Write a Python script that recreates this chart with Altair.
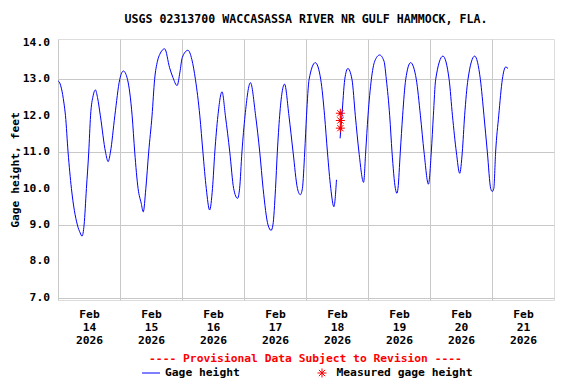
import altair as alt
import pandas as pd

# ---- data (hours after 2026-02-14 00:00, feet) ----
seg1_hours = [0.0, 0.7, 1.3, 2.3, 2.9, 3.9, 5.2, 7.5, 8.6, 9.3,
              10.1, 11.0, 11.9, 12.6, 13.6, 14.5,
              15.3, 16.4, 18.4, 19.4,
              20.3, 22.0, 23.9, 25.3,
              26.9, 28.7, 29.7, 31.0, 32.2, 33.0,
              34.0, 35.1, 36.4, 37.4, 38.5, 39.4, 41.3,
              43.2, 44.5, 46.1,
              47.2, 48.1, 50.3,
              51.8, 53.2, 54.9, 56.1, 57.4, 58.7,
              59.8, 60.7, 61.9, 63.5,
              64.8, 66.5, 68.0, 69.5,
              70.3, 71.2, 72.4, 74.5,
              76.5, 78.1, 79.4, 81.3, 82.5,
              83.2, 84.2, 84.9, 85.8, 87.7,
              89.4, 91.0, 92.7, 93.8,
              94.6, 95.5, 96.2, 97.2, 99.6,
              101.7, 103.2, 104.3, 105.6, 106.8, 107.8]
seg1_values = [12.96, 12.90, 12.76, 12.35, 12.0, 11.0, 10.0, 9.0, 8.78, 8.69,
               9.0, 10.0, 11.0, 12.0, 12.55, 12.71,
               12.5, 12.0, 11.0, 10.74,
               11.0, 12.0, 13.0, 13.23,
               13.0, 12.0, 11.0, 10.0, 9.6, 9.36,
               10.0, 11.0, 12.0, 13.0, 13.5, 13.69, 13.84,
               13.32, 13.05, 12.83,
               13.2, 13.6, 13.80,
               13.55, 13.0, 12.0, 11.0, 10.0, 9.41,
               10.0, 11.0, 12.0, 12.66,
               12.0, 11.0, 10.0, 9.73,
               10.0, 11.0, 12.0, 12.91,
               12.0, 11.0, 10.0, 9.0, 8.85,
               9.0, 10.0, 11.0, 12.0, 12.87,
               12.0, 11.0, 10.0, 9.83,
               10.0, 11.0, 12.0, 13.0, 13.46,
               13.0, 12.0, 11.0, 10.0, 9.50, 10.24]

seg2_hours = [109.2, 109.9, 111.0, 112.2,
              113.8, 115.1, 116.5, 118.3,
              119.1, 120.0, 121.3, 122.6, 124.5,
              126.2, 127.1, 128.4, 129.3, 130.6, 131.2,
              131.6, 132.5, 133.4, 134.6, 136.5,
              138.7, 140.3, 141.7, 143.4,
              144.5, 145.3, 146.2, 149.0,
              151.4, 152.7, 154.2, 155.5,
              156.5, 157.4, 158.7, 161.3,
              163.5, 164.9, 166.2, 167.5, 168.1,
              168.7, 169.4, 170.6, 172.0, 173.3, 174.2]
seg2_values = [11.38, 12.0, 13.0, 13.30,
               13.0, 12.0, 11.0, 10.17,
               11.0, 12.0, 13.0, 13.5, 13.67,
               13.5, 13.0, 12.0, 11.0, 10.0, 9.87,
               10.0, 11.0, 12.0, 13.0, 13.46,
               13.0, 12.0, 11.0, 10.12,
               11.0, 12.0, 13.0, 13.64,
               13.0, 12.0, 11.0, 10.42,
               11.0, 12.0, 13.0, 13.64,
               13.0, 12.0, 11.0, 10.0, 9.92,
               10.0, 11.0, 12.0, 13.0, 13.34, 13.30]

meas_hours = [109.3, 109.3, 109.3]
meas_values = [12.07, 11.87, 11.66]

y_ticks = [7, 8, 9, 10, 11, 12, 13, 14]
y_tick_labels = ["7.0", "8.0", "9.0", "10.0", "11.0", "12.0", "13.0", "14.0"]
tick_days = [14, 15, 16, 17, 18, 19, 20, 21]

title_text = "USGS 02313700 WACCASASSA RIVER NR GULF HAMMOCK, FLA."
y_title = "Gage height, feet"
note_text = "---- Provisional Data Subject to Revision ----"
legend_line_label = "Gage height"
legend_point_label = "Measured gage height"

FONT = "DejaVu Sans Mono"
FS = 11.3

base = pd.Timestamp("2026-02-14")


def to_ts(hours):
    return [(base + pd.Timedelta(hours=h)).strftime("%Y-%m-%dT%H:%M:%S") for h in hours]


line_df = pd.DataFrame({
    "time": to_ts(seg1_hours) + to_ts(seg2_hours),
    "value": seg1_values + seg2_values,
    "seg": [1] * len(seg1_hours) + [2] * len(seg2_hours),
})
meas_df = pd.DataFrame({"time": to_ts(meas_hours), "value": meas_values})
ytick_df = pd.DataFrame({"value": y_ticks, "label": y_tick_labels})

x_scale = alt.Scale(domain=[alt.DateTime(year=2026, month=2, date=14),
                            alt.DateTime(year=2026, month=2, date=22)])
y_scale = alt.Scale(domain=[6.937, 14.11], nice=False, zero=False)

x_axis = alt.Axis(
    values=[alt.DateTime(year=2026, month=2, date=d) for d in tick_days],
    labelExpr="[timeFormat(datum.value, '%b'), timeFormat(datum.value, '%d'), timeFormat(datum.value, '%Y')]",
    labelOffset=31, labelAlign="center", labelLineHeight=13, labelPadding=8,
    title=None,
)
# y tick labels are drawn by a text layer (below); the axis keeps grid + title
y_axis = alt.Axis(
    values=y_ticks, labels=False,
    title=y_title, titlePadding=38,
)

line = alt.Chart(line_df).mark_line(color="#0000ff", strokeWidth=1, interpolate="monotone").encode(
    x=alt.X("time:T", scale=x_scale, axis=x_axis),
    y=alt.Y("value:Q", scale=y_scale, axis=y_axis),
    detail="seg:N",
)

ylabels = alt.Chart(ytick_df).mark_text(
    font=FONT, fontSize=FS, fontWeight="bold", color="black", align="right", baseline="middle"
).encode(y=alt.Y("value:Q"), text="label:N", x=alt.value(-8))

ASTER = "M-1,0L1,0M0,-1L0,1M-0.7,-0.7L0.7,0.7M-0.7,0.7L0.7,-0.7"
meas = alt.Chart(meas_df).mark_point(shape=ASTER, filled=False, color="red",
                                      strokeWidth=1, size=81, opacity=1).encode(
    x="time:T", y="value:Q")
meas_dot = alt.Chart(meas_df).mark_point(shape="square", filled=True, color="red",
                                          size=9, opacity=1).encode(
    x="time:T", y="value:Q")

note = alt.Chart(pd.DataFrame({"t": [note_text]})).mark_text(
    font=FONT, fontSize=FS, fontWeight="bold", color="red", align="center", baseline="middle"
).encode(text="t:N", x=alt.value(247.5), y=alt.value(320))

leg_line = alt.Chart(pd.DataFrame({"a": [0]})).mark_rule(color="#0000ff", strokeWidth=1).encode(
    x=alt.value(84), x2=alt.value(102), y=alt.value(334))
leg_line_text = alt.Chart(pd.DataFrame({"t": [legend_line_label]})).mark_text(
    font=FONT, fontSize=FS, fontWeight="bold", color="black", align="left", baseline="middle"
).encode(text="t:N", x=alt.value(107), y=alt.value(334))
leg_pt = alt.Chart(pd.DataFrame({"a": [0]})).mark_point(shape=ASTER, filled=False, color="red",
                                                       strokeWidth=1, size=81, opacity=1).encode(
    x=alt.value(264), y=alt.value(334))
leg_pt_text = alt.Chart(pd.DataFrame({"t": [legend_point_label]})).mark_text(
    font=FONT, fontSize=FS, fontWeight="bold", color="black", align="left", baseline="middle"
).encode(text="t:N", x=alt.value(278.5), y=alt.value(334))

chart = alt.layer(line, ylabels, meas, meas_dot, note, leg_line, leg_line_text, leg_pt, leg_pt_text).properties(
    width=496, height=261,
    title=alt.TitleParams(title_text, font=FONT, fontSize=11.6, fontWeight="bold",
                          color="black", anchor="middle", offset=11),
    autosize=alt.AutoSizeParams(type="none"),
    padding={"left": 50, "top": 31, "right": 14, "bottom": 84},
).configure_view(stroke="black", strokeWidth=1).configure(background="white").configure_axis(
    labelFont=FONT, labelFontSize=FS, labelFontWeight="bold", labelColor="black",
    labelOverlap=False, labelBound=False, labelFlush=False,
    ticks=False, domain=False, grid=True, gridColor="#c8c8c8", gridWidth=1,
    titleFont=FONT, titleFontSize=FS, titleFontWeight="bold", titleColor="black",
)

chart.save("out.html", embed_options={"renderer": "svg", "actions": False})
